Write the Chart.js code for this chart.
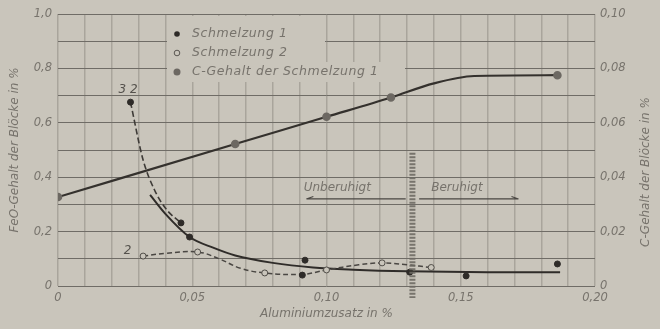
<!DOCTYPE html>
<html>
<head>
<meta charset="utf-8">
<script src="https://cdn.jsdelivr.net/npm/chart.js@4/dist/chart.umd.min.js"></script>
<style>
  html,body{margin:0;padding:0;background:#c9c5bb;}
  #wrap{width:660px;height:329px;position:relative;}
</style>
</head>
<body>
<div id="wrap"><canvas id="c" width="660" height="329"></canvas></div>
<script>
// ---- data ----
// Aluminium addition (%) on x, FeO content (%) on left axis, C content (%) on right axis
const s1X = [0.027, 0.0458, 0.049, 0.091, 0.092, 0.131, 0.152, 0.186];
const s1Y = [0.676, 0.232, 0.180, 0.040, 0.095, 0.051, 0.037, 0.081];

const s2X = [0.0317, 0.052, 0.077, 0.100, 0.1207, 0.139];
const s2Y = [0.110, 0.125, 0.048, 0.059, 0.085, 0.068];

const cX = [0, 0.066, 0.100, 0.124, 0.140, 0.155, 0.186];
const cY = [0.0327, 0.0522, 0.0622, 0.0693, 0.0745, 0.0772, 0.0775];
const cMarked = [true, true, true, true, false, false, true];

// drawn trend curves
const s1CurveX = [0.027, 0.0317, 0.0361, 0.0405, 0.0458];
const s1CurveY = [0.676, 0.463, 0.350, 0.280, 0.232];

const s2CurveX = [0.0317, 0.040, 0.052, 0.060, 0.068, 0.077, 0.091, 0.100, 0.112, 0.1207, 0.130, 0.139];
const s2CurveY = [0.110, 0.120, 0.125, 0.100, 0.065, 0.048, 0.043, 0.059, 0.078, 0.085, 0.078, 0.068];

const meanX = [0.0343, 0.040, 0.049, 0.058, 0.066, 0.080, 0.095, 0.110, 0.130, 0.160, 0.187];
const meanY = [0.335, 0.265, 0.180, 0.140, 0.112, 0.085, 0.068, 0.060, 0.054, 0.051, 0.051];

// tick labels
const xTickValues = [0, 0.05, 0.10, 0.15, 0.20];
const xTickLabels = ['0', '0,05', '0,10', '0,15', '0,20'];
const feoTickValues = [0, 0.2, 0.4, 0.6, 0.8, 1.0];
const feoTickLabels = ['0', '0,2', '0,4', '0,6', '0,8', '1,0'];
const cTickValues = [0, 0.02, 0.04, 0.06, 0.08, 0.10];
const cTickLabels = ['0', '0,02', '0,04', '0,06', '0,08', '0,10'];

const legendLabels = ['Schmelzung 1', 'Schmelzung 2', 'C-Gehalt der Schmelzung 1'];
const xTitle = 'Aluminiumzusatz in %';
const yTitle = 'FeO-Gehalt der Blöcke in %';
const y2Title = 'C-Gehalt der Blöcke in %';
const boundaryX = 0.132;
const zoneLabels = ['Unberuhigt', 'Beruhigt'];
const curveLabels = [{t: '3 2', x: 0.0255, y: 0.72}, {t: '2', x: 0.0275, y: 0.13}];

// ---- styles ----
const BG = '#c9c5bb';
const INK = '#2e2b28';
const TXT = '#77736c';
const FONT = "'DejaVu Sans', sans-serif";

const pts = (xs, ys) => xs.map((x, i) => ({x: x, y: ys[i]}));
const labelFor = (vals, labs) => (v) => {
  for (let i = 0; i < vals.length; i++) if (Math.abs(v - vals[i]) < 1e-6) return labs[i];
  return '';
};

const clearLegendArea = {
  id: 'clearLegendArea',
  beforeDatasetsDraw(chart) {
    const ctx = chart.ctx;
    ctx.save();
    ctx.fillStyle = BG;
    ctx.fillRect(167, 16, 158, 50);
    ctx.fillRect(167, 62, 238, 20);
    ctx.restore();
  }
};

const annotations = {
  id: 'annotations',
  afterDatasetsDraw(chart) {
    const ctx = chart.ctx;
    const xs = chart.scales.x, ys = chart.scales.y;
    ctx.save();
    // boundary hatched line
    const bx = xs.getPixelForValue(boundaryX);
    ctx.strokeStyle = 'rgba(110,106,100,0.9)';
    ctx.lineWidth = 6;
    ctx.setLineDash([2, 1.5]);
    ctx.beginPath();
    ctx.moveTo(bx, ys.getPixelForValue(0.49));
    ctx.lineTo(bx, ys.getPixelForValue(0) + 12);
    ctx.stroke();
    ctx.setLineDash([]);

    // zone labels with arrows
    ctx.fillStyle = TXT;
    ctx.font = "italic 12px " + FONT;
    ctx.textBaseline = 'middle';
    ctx.textAlign = 'left';
    const ty = ys.getPixelForValue(0.36);
    const ly = ys.getPixelForValue(0.32);
    ctx.fillText(zoneLabels[0], xs.getPixelForValue(0.0915), ty);
    ctx.fillText(zoneLabels[1], xs.getPixelForValue(0.139), ty);
    ctx.strokeStyle = '#4a4743';
    ctx.lineWidth = 1.2;
    ctx.beginPath();
    const a1 = xs.getPixelForValue(0.0925), a2 = xs.getPixelForValue(0.1295);
    ctx.moveTo(a1, ly); ctx.lineTo(a2, ly);
    ctx.moveTo(a1, ly); ctx.lineTo(a1 + 7, ly - 2.5);
    const b1 = xs.getPixelForValue(0.1345), b2 = xs.getPixelForValue(0.1715);
    ctx.moveTo(b1, ly); ctx.lineTo(b2, ly);
    ctx.moveTo(b2, ly); ctx.lineTo(b2 - 7, ly - 2.5);
    ctx.stroke();

    // curve labels
    ctx.font = "italic 12px " + FONT;
    ctx.fillStyle = '#55524d';
    curveLabels.forEach(l => {
      ctx.fillText(l.t, xs.getPixelForValue(l.x) - 8, ys.getPixelForValue(l.y));
    });

    // legend
    const lx = 177, rows = [34, 53, 72];
    ctx.font = "italic 12.5px " + FONT;
    try { ctx.letterSpacing = '0.6px'; } catch (e) {}
    ctx.fillStyle = TXT;
    legendLabels.forEach((t, i) => {
      const y = rows[i];
      ctx.beginPath();
      ctx.arc(lx, y, i === 2 ? 3.5 : 2.8, 0, Math.PI * 2);
      if (i === 0) { ctx.fillStyle = INK; ctx.fill(); }
      else if (i === 1) { ctx.fillStyle = BG; ctx.fill(); ctx.strokeStyle = '#5a5752'; ctx.lineWidth = 1; ctx.stroke(); }
      else { ctx.fillStyle = '#6c6862'; ctx.fill(); }
      ctx.fillStyle = TXT;
      ctx.fillText(t, lx + 15, y);
    });
    try { ctx.letterSpacing = '0px'; } catch (e) {}

    // right axis title (reads bottom to top)
    ctx.save();
    ctx.translate(646, 172);
    ctx.rotate(-Math.PI / 2);
    ctx.textAlign = 'center';
    ctx.font = "italic 12px " + FONT;
    ctx.fillStyle = TXT;
    ctx.fillText(y2Title, 0, 0);
    ctx.restore();
    ctx.restore();
  }
};

new Chart(document.getElementById('c'), {
  type: 'scatter',
  data: {
    datasets: [
      {label: legendLabels[0], data: pts(s1X, s1Y), yAxisID: 'y', showLine: false,
       pointRadius: 3, pointBackgroundColor: INK, pointBorderColor: INK, order: 1},
      {label: legendLabels[1], data: pts(s2X, s2Y), yAxisID: 'y', showLine: false,
       pointRadius: 3, pointBackgroundColor: BG, pointBorderColor: '#4f4c47', pointBorderWidth: 1, order: 1},
      {label: legendLabels[2], data: pts(cX, cY), yAxisID: 'y2', showLine: true,
       borderColor: '#34312d', borderWidth: 2.2, tension: 0.3, cubicInterpolationMode: 'monotone',
       pointRadius: cMarked.map(m => m ? 3.2 : 0), pointBackgroundColor: '#6c6862', pointBorderColor: '#6c6862', order: 2},
      {label: 's1curve', data: pts(s1CurveX, s1CurveY), yAxisID: 'y', showLine: true,
       borderColor: '#3e3b37', borderWidth: 1.6, borderDash: [6, 3], pointRadius: 0, cubicInterpolationMode: 'monotone', order: 3},
      {label: 's2curve', data: pts(s2CurveX, s2CurveY), yAxisID: 'y', showLine: true,
       borderColor: '#4a4743', borderWidth: 1.5, borderDash: [5, 3], pointRadius: 0, tension: 0.4, order: 3},
      {label: 'mean', data: pts(meanX, meanY), yAxisID: 'y', showLine: true,
       borderColor: '#2f2c29', borderWidth: 2, pointRadius: 0, cubicInterpolationMode: 'monotone', order: 3}
    ]
  },
  options: {
    responsive: false,
    animation: false,
    layout: {padding: {top: 14, left: 0, right: 0, bottom: 0}},
    plugins: {legend: {display: false}, tooltip: {enabled: false}},
    scales: {
      x: {
        type: 'linear', min: 0, max: 0.2,
        afterFit(s) { s.height = 43; },
        border: {display: false},
        grid: {color: '#a9a59c', lineWidth: 1.5, drawTicks: false},
        ticks: {stepSize: 0.01, autoSkip: false, maxRotation: 0, padding: 5, color: TXT,
                font: {family: FONT, size: 11.5, style: 'italic'},
                callback: labelFor(xTickValues, xTickLabels)},
        title: {display: true, text: xTitle, color: TXT, padding: {top: 2, bottom: 8},
                font: {family: FONT, size: 12, style: 'italic'}}
      },
      y: {
        type: 'linear', position: 'left', min: 0, max: 1.0,
        afterFit(s) { s.width = 58; },
        border: {display: false},
        grid: {color: '#6f6c66', lineWidth: 1, drawTicks: false},
        ticks: {stepSize: 0.1, autoSkip: false, padding: 6, color: TXT,
                font: {family: FONT, size: 11.5, style: 'italic'},
                callback: labelFor(feoTickValues, feoTickLabels)},
        title: {display: true, text: yTitle, color: TXT, padding: {top: 8, bottom: 0},
                font: {family: FONT, size: 12, style: 'italic'}}
      },
      y2: {
        type: 'linear', position: 'right', min: 0, max: 0.1,
        afterFit(s) { s.width = 65; },
        border: {display: false},
        grid: {display: false, drawTicks: false},
        ticks: {stepSize: 0.01, autoSkip: false, padding: 5, color: TXT,
                font: {family: FONT, size: 11.5, style: 'italic'},
                callback: labelFor(cTickValues, cTickLabels)}
      }
    }
  },
  plugins: [clearLegendArea, annotations]
});
</script>
</body>
</html>
